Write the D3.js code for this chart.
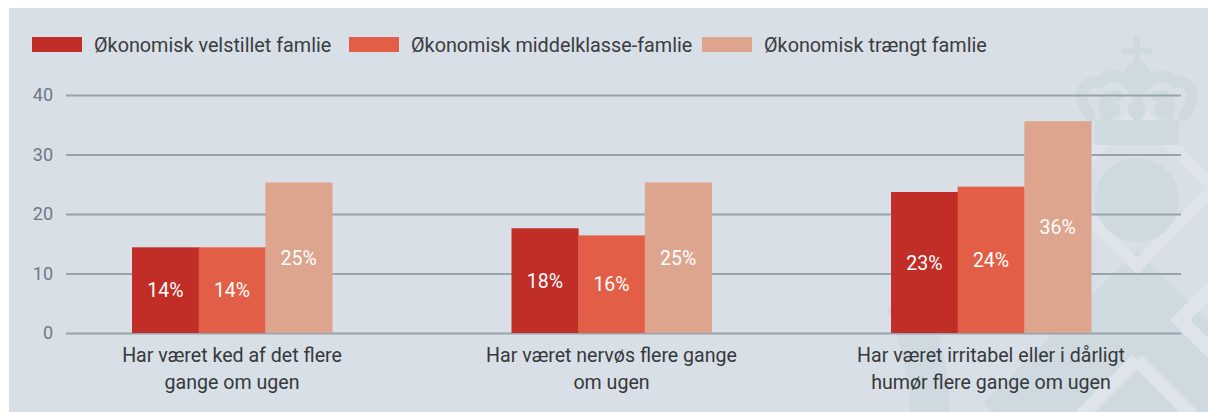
<!DOCTYPE html>
<html>
<head>
<meta charset="utf-8">
<script src="https://cdn.jsdelivr.net/npm/d3@7"></script>
<style>
  html, body { margin: 0; padding: 0; background: #fff; }
  svg { display: block; font-family: Roboto, "Noto Sans", sans-serif; }
</style>
</head>
<body>
<div id="chart"></div>
<script>
// chart data
const categories = [
    ["Har været ked af det flere", "gange om ugen"],
    ["Har været nervøs flere gange", "om ugen"],
    ["Har været irritabel eller i dårligt", "humør flere gange om ugen"]
];
const seriesNames = ["Økonomisk velstillet famlie", "Økonomisk middelklasse-famlie", "Økonomisk trængt famlie"];
const velstillet = [14.4, 17.6, 23.7];
const middelklasse = [14.4, 16.4, 24.6];
const traengt = [25.3, 25.3, 35.6];
// one row per series, one entry per category
const valueLabels = [
    ["14%", "18%", "23%"],
    ["14%", "16%", "24%"],
    ["25%", "25%", "36%"]
];
const yTicks = [0, 10, 20, 30, 40];

const colors = ["#c02e27", "#e25e46", "#dda58e"];
const series = [velstillet, middelklasse, traengt];

const W = 1208, H = 412;

const svg = d3.select("#chart")
    .append("svg")
    .attr("width", W)
    .attr("height", H);

// panel background
svg.append("rect")
    .attr("x", 9).attr("y", 8)
    .attr("width", W - 9).attr("height", H - 8)
    .attr("fill", "#d8dfe6");

svg.append("clipPath").attr("id", "panel")
    .append("rect").attr("x", 9).attr("y", 8).attr("width", W - 9).attr("height", H - 8);

// watermark (crown + orb + diamonds)
const wm = svg.append("g").attr("clip-path", "url(#panel)");
const dark = "#cfd9e0", light = "#dee4e9";
wm.append("path")
    .attr("d", "M1137,250 L1290,403 L1137,556 L984,403 Z")
    .attr("fill", dark);
wm.append("path")
    .attr("d", "M1137,110 L1215,188 L1137,266 L1059,188 Z")
    .attr("fill", "none").attr("stroke", light).attr("stroke-width", 12);
wm.append("path")
    .attr("d", "M1137,360 L1230,453 M1137,360 L1044,453")
    .attr("fill", "none").attr("stroke", light).attr("stroke-width", 14);
wm.append("path")
    .attr("d", "M1215,285 L1180,320 L1215,355")
    .attr("fill", "none").attr("stroke", light).attr("stroke-width", 14);
wm.append("path")
    .attr("d", "M905,300 Q930,360 930,412")
    .attr("fill", "none").attr("stroke", dark).attr("stroke-width", 40);
wm.append("circle").attr("cx", 1137).attr("cy", 200).attr("r", 42).attr("fill", dark);
// crown
wm.append("rect").attr("x", 1095).attr("y", 120).attr("width", 84).attr("height", 25).attr("fill", dark);
wm.append("path")
    .attr("d", "M1137,38 L1137,66 M1124,51 L1150,51")
    .attr("stroke", dark).attr("stroke-width", 6).attr("stroke-linecap", "round");
wm.append("circle").attr("cx", 1137).attr("cy", 73).attr("r", 12).attr("fill", dark);
wm.append("path")
    .attr("d", "M1090,116 C1075,95 1082,80 1100,82 C1112,70 1128,78 1137,95 C1146,78 1162,70 1174,82 C1192,80 1199,95 1184,116")
    .attr("fill", "none").attr("stroke", dark).attr("stroke-width", 11).attr("stroke-linecap", "round");
wm.append("path")
    .attr("d", "M1106,116 C1100,100 1108,92 1118,96 M1168,116 C1174,100 1166,92 1156,96 M1137,100 L1137,116")
    .attr("fill", "none").attr("stroke", dark).attr("stroke-width", 10).attr("stroke-linecap", "round");
[1111, 1137, 1163].forEach(cx => {
    wm.append("circle").attr("cx", cx).attr("cy", 110).attr("r", 9).attr("fill", dark);
});

// scales
const x0 = d3.scalePoint()
    .domain(d3.range(categories.length))
    .range([232, 991]);
const x1 = d3.scaleBand()
    .domain(d3.range(seriesNames.length))
    .range([-100, 100]);
const y = d3.scaleLinear()
    .domain([0, 40])
    .range([333, 95]);

// y axis with gridlines
const yAxis = svg.append("g")
    .attr("transform", "translate(66,0)")
    .call(d3.axisLeft(y).tickValues(yTicks).tickSize(-1115).tickPadding(13));
yAxis.select(".domain").remove();
yAxis.selectAll(".tick line")
    .attr("stroke", "#97a3ad")
    .attr("stroke-width", 2);
yAxis.selectAll(".tick text")
    .attr("fill", "#6e7984")
    .attr("font-size", 18)
    .attr("font-family", "Roboto, sans-serif");

// bars
const groups = svg.append("g")
    .selectAll("g")
    .data(categories)
    .join("g")
    .attr("transform", (d, i) => `translate(${x0(i)},0)`);

groups.selectAll("rect")
    .data((d, i) => series.map((s, j) => ({ v: s[i], j: j, label: valueLabels[j][i] })))
    .join("rect")
    .attr("x", d => x1(d.j))
    .attr("y", d => y(d.v))
    .attr("width", x1.bandwidth() + 0.5)
    .attr("height", d => y(0) - y(d.v))
    .attr("fill", d => colors[d.j]);

groups.selectAll("text.val")
    .data((d, i) => series.map((s, j) => ({ v: s[i], j: j, label: valueLabels[j][i] })))
    .join("text")
    .attr("class", "val")
    .attr("x", d => x1(d.j) + x1.bandwidth() / 2)
    .attr("y", d => (y(d.v) + y(0)) / 2)
    .attr("dy", "0.36em")
    .attr("text-anchor", "middle")
    .attr("fill", "#ffffff")
    .attr("font-size", 19.5)
    .text(d => d.label);

// category labels
groups.append("text")
    .attr("text-anchor", "middle")
    .attr("fill", "#36393c")
    .attr("font-size", 19.6)
    .selectAll("tspan")
    .data(d => d)
    .join("tspan")
    .attr("x", 0)
    .attr("y", (d, k) => 362 + k * 27)
    .text(d => d);

// legend
const legendX = [32, 349, 702];
const legend = svg.append("g")
    .selectAll("g")
    .data(seriesNames)
    .join("g")
    .attr("transform", (d, i) => `translate(${legendX[i]},37)`);
legend.append("rect")
    .attr("width", 50).attr("height", 15)
    .attr("fill", (d, i) => colors[i]);
legend.append("text")
    .attr("x", 62).attr("y", 14.5)
    .attr("fill", "#3a3d40")
    .attr("font-size", 19.8)
    .text(d => d);
</script>
</body>
</html>
